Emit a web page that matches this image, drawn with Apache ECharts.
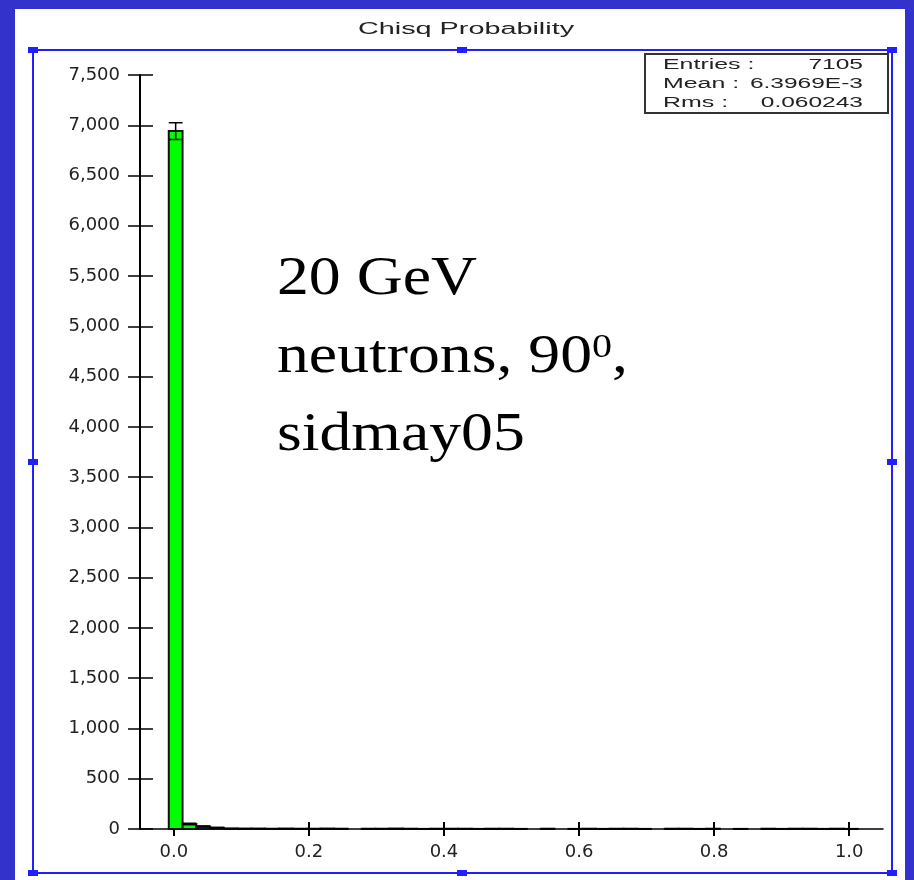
<!DOCTYPE html>
<html>
<head>
<meta charset="utf-8">
<title>Chisq Probability</title>
<script src="https://cdn.jsdelivr.net/npm/echarts@6/dist/echarts.min.js"></script>
<style>
html, body { margin: 0; padding: 0; background: #ffffff; }
#chart { width: 914px; height: 880px; }
</style>
</head>
<body>
<div id="chart"></div>
<script>
// histogram: 50 bins, counts
var binStart = -0.0074;
var binWidth = 0.0204;
var counts = [6942, 50, 25, 12, 4, 3, 3, 2, 3, 2, 2, 3, 2, 0, 2, 2, 3, 2, 1, 2,
              2, 2, 1, 2, 2, 1, 0, 2, 0, 1, 2, 1, 2, 2, 1, 0, 2, 2, 1, 2,
              0, 1, 0, 2, 1, 2, 2, 1, 2, 1];
var xTicks = [0, 0.2, 0.4, 0.6, 0.8, 1.0];
var statNames = ['Entries :', 'Mean :', 'Rms :'];
var statValues = ['7105', '6.3969E-3', '0.060243'];
var chartTitle = 'Chisq Probability';

var bins = [];
for (var i = 0; i < counts.length; i++) {
  var lo = binStart + i * binWidth;
  bins.push([lo, lo + binWidth, counts[i]]);
}

function withCommas(v) {
  return String(v).replace(/\B(?=(\d{3})+(?!\d))/g, ',');
}

// green bars with black outline
function renderBar(params, api) {
  var n = api.value(2);
  if (n <= 0) return;
  var p0 = api.coord([api.value(0), n]);
  var p1 = api.coord([api.value(1), 0]);
  return {
    type: 'rect',
    shape: { x: p0[0], y: p0[1], width: p1[0] - p0[0], height: p1[1] - p0[1] },
    style: { fill: '#00ff00', stroke: '#111', lineWidth: 2 }
  };
}

// sqrt(n) error bars with caps across the bin
function renderErr(params, api) {
  var n = api.value(2);
  if (n <= 0) return;
  var e = Math.sqrt(n);
  var lo = api.value(0), hi = api.value(1);
  var top = api.coord([(lo + hi) / 2, n + e]);
  var bot = api.coord([(lo + hi) / 2, n - e]);
  var l = api.coord([lo, n])[0], r = api.coord([hi, n])[0];
  var st = { stroke: '#000', lineWidth: 1.5 };
  return {
    type: 'group',
    children: [
      { type: 'line', shape: { x1: top[0], y1: top[1], x2: bot[0], y2: bot[1] }, style: st },
      { type: 'line', shape: { x1: l, y1: top[1], x2: r, y2: top[1] }, style: st },
      { type: 'line', shape: { x1: l, y1: bot[1], x2: r, y2: bot[1] }, style: st }
    ]
  };
}

// blue frame + selection handles (page coords)
var blue = '#3333cc';
var sel = '#1f1fff';
var handles = [[33, 50], [462, 50], [892, 50], [33, 462], [892, 462], [33, 873], [462, 873], [892, 873]];
var frame = [
  { type: 'rect', shape: { x: 0, y: 0, width: 914, height: 9 }, style: { fill: blue } },
  { type: 'rect', shape: { x: 0, y: 0, width: 15, height: 880 }, style: { fill: blue } },
  { type: 'rect', shape: { x: 905, y: 0, width: 9, height: 880 }, style: { fill: blue } },
  { type: 'rect', shape: { x: 33, y: 50, width: 859, height: 823 }, style: { fill: null, stroke: sel, lineWidth: 2 } }
];
handles.forEach(function (h) {
  frame.push({ type: 'rect', shape: { x: h[0] - 5, y: h[1] - 3, width: 10, height: 6 }, style: { fill: sel } });
});

// stats box
var stats = [
  { type: 'rect', shape: { x: 645, y: 54, width: 243, height: 59 }, style: { fill: '#fff', stroke: '#333', lineWidth: 2 } }
];
statNames.forEach(function (s, k) {
  stats.push({ type: 'text', x: 663, y: 65 + k * 19, scaleX: 1.78,
    style: { text: s, fontSize: 14, fontFamily: 'Liberation Sans', fill: '#222', align: 'left', verticalAlign: 'middle' } });
  stats.push({ type: 'text', x: 863, y: 65 + k * 19, scaleX: 1.75,
    style: { text: statValues[k], fontSize: 14, fontFamily: 'Liberation Sans', fill: '#222', align: 'right', verticalAlign: 'middle' } });
});

var serif = 'Liberation Serif';
var note = {
  type: 'text', x: 277, y: 253, scaleX: 1.18,
  style: {
    text: '{n|20 GeV}\n{n|neutrons, 90}{s|0}{n|,}\n{n|sidmay05}',
    fill: '#000',
    rich: {
      n: { fontSize: 54, fontFamily: serif, lineHeight: 78, verticalAlign: 'top', fill: '#000' },
      s: { fontSize: 34, fontFamily: serif, lineHeight: 78, verticalAlign: 'top', fill: '#000' }
    }
  }
};

var dom = document.getElementById('chart');
var myChart = echarts.init(dom, null, { renderer: 'canvas' });
var axisFont = 'DejaVu Sans';
var option = {
  backgroundColor: '#ffffff',
  animation: false,
  grid: { left: 140, right: 31, top: 75, bottom: 51, containLabel: false, outerBoundsMode: 'none' },
  xAxis: [
    {
      type: 'value', min: -0.05, max: 1.05, position: 'bottom',
      axisLine: { show: true, onZero: false, lineStyle: { color: '#000', width: 1.5 } },
      axisTick: { show: true, customValues: xTicks, length: 7, lineStyle: { color: '#000', width: 2 } },
      axisLabel: { customValues: xTicks, formatter: function (v) { return v.toFixed(1); },
        margin: 14, color: '#222', fontFamily: axisFont, fontSize: 18 },
      splitLine: { show: false }
    },
    {
      type: 'value', min: -0.05, max: 1.05, position: 'bottom',
      axisLine: { show: false, onZero: false },
      axisTick: { show: true, inside: true, customValues: xTicks, length: 7, lineStyle: { color: '#000', width: 2 } },
      axisLabel: { show: false },
      splitLine: { show: false }
    }
  ],
  yAxis: [
    {
      type: 'value', min: 0, max: 7500, interval: 500, position: 'left',
      axisLine: { show: true, onZero: false, lineStyle: { color: '#000', width: 2 } },
      axisTick: { show: true, length: 12, lineStyle: { color: '#000', width: 1.5 } },
      axisLabel: { formatter: withCommas, margin: 20, color: '#222', fontFamily: axisFont, fontSize: 18 },
      splitLine: { show: false }
    },
    {
      type: 'value', min: 0, max: 7500, interval: 500, position: 'left',
      axisLine: { show: false, onZero: false },
      axisTick: { show: true, inside: true, length: 13, lineStyle: { color: '#000', width: 1.5 } },
      axisLabel: { show: false },
      splitLine: { show: false }
    }
  ],
  graphic: [
    { type: 'text', x: 466, y: 30, scaleX: 1.8, z: 10,
      style: { text: chartTitle, fontSize: 16, fontFamily: 'Liberation Sans', fill: '#222', align: 'center', verticalAlign: 'middle' } },
    note
  ].concat(frame).concat(stats),
  series: [
    {
      name: 'bins', type: 'custom', xAxisIndex: 0, yAxisIndex: 0,
      renderItem: renderBar, encode: { x: [0, 1], y: 2 }, data: bins, z: 3
    },
    {
      name: 'errors', type: 'custom', xAxisIndex: 0, yAxisIndex: 0,
      renderItem: renderErr, encode: { x: [0, 1], y: 2 }, data: bins, z: 4
    }
  ]
};
myChart.setOption(option, true);
</script>
</body>
</html>
